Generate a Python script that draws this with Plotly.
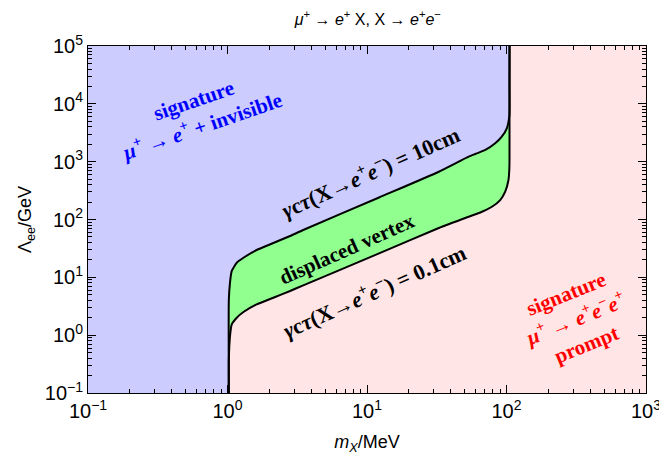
import plotly.graph_objects as go

# ---- data ----
# boundary gamma*c*tau = 0.1 cm (lower curve): m_X [MeV], Lambda_ee [GeV]
m_low = [1.022, 1.0222, 1.042, 1.073, 1.165, 1.301, 1.618, 2.13, 2.81, 3.49,
         12.2, 32.7, 53.5, 66.7, 78.6, 90.1, 97.9, 103.3, 104.9, 105.08, 105.12]
lam_low = [0.1, 0.372, 0.966, 1.54, 2.00, 2.51, 3.41, 4.44, 5.80, 7.28,
           25.9, 71.3, 111.7, 136, 166, 217, 303, 482, 818, 5000, 1e5]

# boundary gamma*c*tau = 10 cm (upper curve)
m_up = [1.022, 1.0222, 1.042, 1.073, 1.165, 1.301, 1.618, 2.13, 2.81, 3.49,
        12.2, 32.7, 53.5, 59.7, 70.5, 83.0, 92.5, 100.5, 104.9, 105.08, 105.12]
lam_up = [0.1, 4.05, 8.07, 12.9, 17.9, 21.8, 29.7, 39.2, 51.8, 65.8,
          240, 670, 1218, 1357, 1592, 2077, 2700, 3775, 6410, 20000, 1e5]

x_range = [0.1, 1000]
y_range = [0.1, 1e5]

x_ticks = [0.1, 1, 10, 100, 1000]
x_ticktext = ["10<sup>−1</sup>", "10<sup>0</sup>", "10<sup>1</sup>", "10<sup>2</sup>", "10<sup>3</sup>"]
y_ticks = [0.1, 1, 10, 100, 1000, 10000, 100000]
y_ticktext = ["10<sup>−1</sup>", "10<sup>0</sup>", "10<sup>1</sup>", "10<sup>2</sup>",
              "10<sup>3</sup>", "10<sup>4</sup>", "10<sup>5</sup>"]

def minor_vals(lo_exp, hi_exp):
    out = []
    for e in range(lo_exp, hi_exp):
        for d in range(2, 10):
            out.append(d * 10.0 ** e)
    return out

x_minor = minor_vals(-1, 3)
y_minor = minor_vals(-1, 5)

BLUE = "rgb(204,204,255)"
PINK = "rgb(255,229,229)"
GREEN = "rgb(144,255,144)"

LINE_SHAPE = dict(shape="spline", smoothing=0.5)

fig = go.Figure()

# blue region (left of / above the 10 cm curve)
fig.add_trace(go.Scatter(
    x=[x_range[0]] + m_up + [x_range[0]],
    y=[y_range[0]] + lam_up + [y_range[1]],
    fill="toself", fillcolor=BLUE, mode="lines",
    line=dict(width=0.5, color=BLUE), hoverinfo="skip", showlegend=False))

# green band (displaced vertex)
fig.add_trace(go.Scatter(
    x=m_low + m_up[::-1],
    y=lam_low + lam_up[::-1],
    fill="toself", fillcolor=GREEN, mode="lines",
    line=dict(width=0.5, color=GREEN), hoverinfo="skip", showlegend=False))

# boundary lines
fig.add_trace(go.Scatter(x=m_low, y=lam_low, mode="lines",
                         line=dict(color="black", width=2, **LINE_SHAPE), showlegend=False))
fig.add_trace(go.Scatter(x=m_up, y=lam_up, mode="lines",
                         line=dict(color="black", width=2, **LINE_SHAPE), showlegend=False))

serif = "Liberation Serif"
ann_font = dict(family=serif, size=21)

annotations = [
    dict(text="<b>signature<br><i>μ</i><sup>+</sup> → <i>e</i><sup>+</sup> + invisible</b>",
         x=0.196, y=0.805, textangle=-19, font=dict(ann_font, color="blue")),
    dict(text="<b><i>γ</i>c<i>τ</i>(X→<i>e</i><sup>+</sup><i>e</i><sup>−</sup>) = 10cm</b>",
         x=0.505, y=0.640, textangle=-24, font=dict(ann_font, size=22, color="black")),
    dict(text="<b>displaced vertex</b>",
         x=0.464, y=0.415, textangle=-24, font=dict(ann_font, color="black")),
    dict(text="<b><i>γ</i>c<i>τ</i>(X→<i>e</i><sup>+</sup><i>e</i><sup>−</sup>) = 0.1cm</b>",
         x=0.5125, y=0.298, textangle=-24, font=dict(ann_font, size=22, color="black")),
    dict(text="<b>signature<br><i>μ</i><sup>+</sup> → <i>e</i><sup>+</sup><i>e</i><sup>−</sup><i>e</i><sup>+</sup><br>prompt</b>",
         x=0.875, y=0.212, textangle=-22, font=dict(ann_font, color="red")),
]
for a in annotations:
    a.update(xref="paper", yref="paper", showarrow=False, xanchor="center", yanchor="middle")

axis_common = dict(
    type="log", showline=True, linecolor="black", linewidth=1, mirror="allticks",
    ticks="inside", ticklen=8, tickcolor="black", tickwidth=1,
    showgrid=False, zeroline=False, automargin=False,
    tickfont=dict(family="Liberation Sans", size=20, color="black"),
    minor=dict(ticks="inside", ticklen=4, tickcolor="black", tickwidth=1,
               showgrid=False, tickmode="array"),
)

# the page body has an 8px margin, so the figure is sized to fit the window
fig.update_layout(
    width=659, height=458,
    margin=dict(l=80, r=21, t=38, b=73),
    paper_bgcolor="white", plot_bgcolor=PINK,
    title=dict(text="<i>μ</i><sup>+</sup> → <i>e</i><sup>+</sup> X, X → <i>e</i><sup>+</sup><i>e</i><sup>−</sup>",
               x=0.546, xanchor="center", y=0.975, yanchor="middle",
               font=dict(family="Liberation Sans", size=16, color="black")),
    annotations=annotations,
    showlegend=False,
)
fig.update_xaxes(axis_common)
fig.update_yaxes(axis_common)
fig.update_xaxes(range=[-1, 3], tickmode="array", tickvals=x_ticks, ticktext=x_ticktext,
                 minor_tickvals=x_minor,
                 title=dict(text="<i>m</i><sub><i>X</i></sub>/MeV", standoff=14,
                            font=dict(family="Liberation Sans", size=18, color="black")))
fig.update_yaxes(range=[-1, 5], tickmode="array", tickvals=y_ticks, ticktext=y_ticktext,
                 minor_tickvals=y_minor,
                 title=dict(text="Λ<sub>ee</sub>/GeV", standoff=8,
                            font=dict(family="Liberation Sans", size=18, color="black")))

fig.write_html("out.html")
